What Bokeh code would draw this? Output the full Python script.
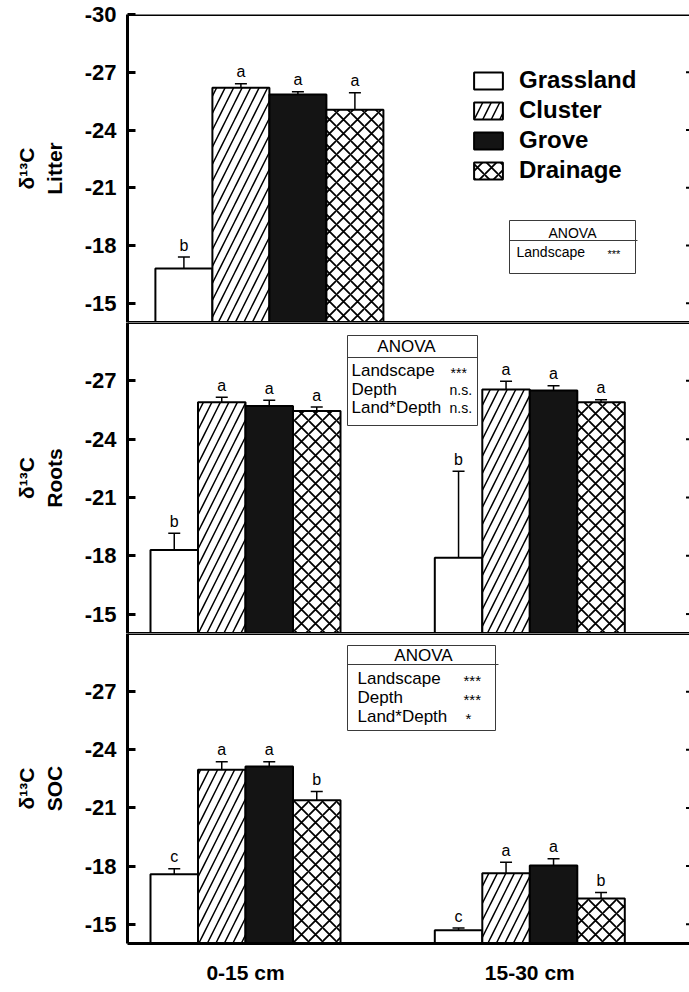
from bokeh.plotting import figure
from bokeh.models import (Range1d, FixedTicker, Whisker, TeeHead,
                          ColumnDataSource, Legend, LegendItem, Label, Span)
from bokeh.layouts import column
from bokeh.core.properties import value
from bokeh.embed import file_html
from bokeh.resources import INLINE

# ---------------- data ----------------
depths = ["0-15 cm", "15-30 cm"]
landscapes = ["Grassland", "Cluster", "Grove", "Drainage"]

litter_mean = [-16.8, -26.2, -25.85, -25.05]
litter_se = [0.6, 0.2, 0.14, 0.88]
litter_letters = ["b", "a", "a", "a"]

roots_mean_0_15 = [-18.3, -25.9, -25.7, -25.45]
roots_se_0_15 = [0.86, 0.26, 0.3, 0.2]
roots_letters_0_15 = ["b", "a", "a", "a"]
roots_mean_15_30 = [-17.9, -26.55, -26.5, -25.9]
roots_se_15_30 = [4.45, 0.43, 0.24, 0.12]
roots_letters_15_30 = ["b", "a", "a", "a"]

soc_mean_0_15 = [-17.58, -22.97, -23.14, -21.39]
soc_se_0_15 = [0.28, 0.41, 0.24, 0.45]
soc_letters_0_15 = ["c", "a", "a", "b"]
soc_mean_15_30 = [-14.68, -17.63, -18.03, -16.32]
soc_se_15_30 = [0.12, 0.57, 0.34, 0.31]
soc_letters_15_30 = ["c", "a", "a", "b"]

yticks_top = [-30, -27, -24, -21, -18, -15]
yticks = [-27, -24, -21, -18, -15]

# ---------------- layout constants ----------------
FONT = "Liberation Sans"
LEFT = 127
FRAME_W = 562
G1_PX, G2_PX = 245.0, 529.3
PXU = G2_PX - G1_PX
BAR_W = 47.5 / PXU
TOP_CENTER = 1 + (268.9 - G1_PX) / PXU
TOP_BAR_W = 57.0 / PXU
X_RANGE = (1 - (G1_PX - LEFT) / PXU, 1 + (LEFT + FRAME_W - G1_PX) / PXU)

styles = {
    "Grassland": dict(fill_color="white"),
    "Cluster": dict(fill_color="white", hatch_pattern="/", hatch_scale=17,
                    hatch_weight=1.5, hatch_color="black"),
    "Grove": dict(fill_color="#141414"),
    "Drainage": dict(fill_color="white", hatch_pattern="x", hatch_scale=14,
                     hatch_weight=1.8, hatch_color="black"),
}


def xd(px):
    return 1 + (px - G1_PX) / PXU


def make_panel(h, top_border, bottom_border, label, ticks, xaxis=False):
    p = figure(frame_width=FRAME_W, frame_height=h,
               x_range=Range1d(*X_RANGE), y_range=Range1d(-14, -30),
               output_backend="svg", toolbar_location=None,
               x_axis_location="below" if xaxis else None,
               min_border_left=LEFT, min_border_right=0,
               min_border_top=top_border, min_border_bottom=bottom_border)
    p.xgrid.visible = False
    p.ygrid.visible = False
    p.outline_line_color = None
    p.background_fill_color = "white"
    p.border_fill_color = "white"
    ya = p.yaxis[0]
    ya.ticker = FixedTicker(ticks=ticks)
    ya.major_label_overrides = {t: str(t) for t in ticks}
    ya.axis_line_width = 3
    ya.axis_line_color = "black"
    ya.major_tick_in = 8
    ya.major_tick_out = 0
    ya.major_tick_line_width = 3
    ya.minor_tick_line_color = None
    ya.major_label_text_font = FONT
    ya.major_label_text_font_style = "bold"
    ya.major_label_text_font_size = "22px"
    ya.major_label_text_color = "black"
    ya.major_label_standoff = 11
    ya.axis_label = label
    ya.axis_label_text_font = FONT
    ya.axis_label_text_font_style = "bold"
    ya.axis_label_text_font_size = "21px"
    ya.axis_label_text_color = "black"
    ya.axis_label_standoff = 16
    # inward tick marks on the (off-page) right side
    p.scatter(x=[X_RANGE[1]] * len(yticks), y=yticks, marker="dash", size=7,
              line_width=2, line_color="black")
    for loc in (-30, -14):
        p.add_layout(Span(location=loc, dimension="width", line_color="black",
                          line_width=3))
    return p


def add_bars(p, centers, width, means, ses, letters):
    renderers = []
    for i, name in enumerate(landscapes):
        xs = [c + (i - 1.5) * width for c in centers]
        top = [m[i] for m in means]
        cap = [m[i] - s[i] for m, s in zip(means, ses)]
        src = ColumnDataSource(dict(x=xs, top=top, cap=cap,
                                    letter=[l[i] for l in letters]))
        r = p.vbar(x="x", width=width, bottom=-14, top="top", source=src,
                   line_color="black", line_width=2, **styles[name])
        renderers.append(r)
        p.add_layout(Whisker(source=src, base="x", lower="top", upper="cap",
                             dimension="height", line_width=1.5, line_color="black",
                             lower_head=None,
                             upper_head=TeeHead(size=12, line_width=1.5,
                                                line_color="black")))
        p.text(x="x", y="cap", text="letter", source=src, text_align="center",
               text_baseline="alphabetic", y_offset=-12, text_font=value(FONT),
               text_font_size="16px", text_color="black")
    return renderers


def anova_box(p, top_px, h, box, header_y, title_xy, rows, size, right_size,
              right_dy, ext=0):
    def yd(py):
        return -30 + (py - top_px) * 16.0 / h
    x0, x1, y0, y1 = box
    p.quad(left=xd(x0), right=xd(x1), top=yd(y0), bottom=yd(y1),
           fill_color="white", line_color="#3a3a3a", line_width=1)
    p.segment(x0=xd(x0), y0=yd(header_y), x1=xd(x1 + ext), y1=yd(header_y),
              line_color="#3a3a3a", line_width=1)
    p.add_layout(Label(x=xd(title_xy[0]), y=yd(title_xy[1]), text="ANOVA",
                       text_font=FONT, text_font_size=f"{size}px",
                       text_align="center", text_baseline="middle",
                       text_color="black"))
    for (lx, ly, ltxt, rx, rtxt) in rows:
        p.add_layout(Label(x=xd(lx), y=yd(ly), text=ltxt, text_font=FONT,
                           text_font_size=f"{size}px", text_align="left",
                           text_baseline="middle", text_color="black"))
        is_star = rtxt.startswith("*")
        p.add_layout(Label(x=xd(rx), y=yd(ly + (right_dy if is_star else 0)),
                           text=rtxt, text_font=FONT,
                           text_font_size=f"{right_size}px", text_align="left",
                           text_baseline="middle", text_color="black"))


# ---------------- panel 1: Litter ----------------
p1 = make_panel(308, 14, 0, "δ¹³C\nLitter", yticks_top)
r1 = add_bars(p1, [TOP_CENTER], TOP_BAR_W, [litter_mean], [litter_se],
              [litter_letters])
legend = Legend(items=[LegendItem(label=n, renderers=[r]) for n, r in zip(landscapes, r1)],
                location=(343, 138), orientation="vertical", glyph_width=36,
                glyph_height=21, label_height=21, spacing=2, padding=0, margin=0,
                border_line_color=None, background_fill_alpha=0,
                label_text_font=FONT, label_text_font_style="bold",
                label_text_font_size="24px", label_standoff=13,
                label_text_color="black")
p1.add_layout(legend)
anova_box(p1, 14, 308, (509, 635, 220, 273), 240, (572, 232),
          [(516, 251, "Landscape", 607, "***")], 14, 11, 2, ext=2)

# ---------------- panel 2: Roots ----------------
p2 = make_panel(311, 0, 0, "δ¹³C\nRoots", yticks)
add_bars(p2, [1, 2], BAR_W, [roots_mean_0_15, roots_mean_15_30],
         [roots_se_0_15, roots_se_15_30], [roots_letters_0_15, roots_letters_15_30])
anova_box(p2, 322, 311, (347, 477, 335, 425), 357, (406, 346),
          [(351, 370, "Landscape", 450, "***"),
           (351, 389, "Depth", 449, "n.s."),
           (351, 407, "Land*Depth", 449, "n.s.")], 17, 14, 2)

# ---------------- panel 3: SOC ----------------
p3 = make_panel(310, 0, 49, "δ¹³C\nSOC", yticks, xaxis=True)
add_bars(p3, [1, 2], BAR_W, [soc_mean_0_15, soc_mean_15_30],
         [soc_se_0_15, soc_se_15_30], [soc_letters_0_15, soc_letters_15_30])
anova_box(p3, 633, 310, (347, 495, 645, 730), 664, (423, 655),
          [(357, 678, "Landscape", 463, "***"),
           (357, 697, "Depth", 463, "***"),
           (357, 716, "Land*Depth", 465, "*")], 17, 15, 2, ext=3)
xa = p3.xaxis[0]
xa.ticker = FixedTicker(ticks=[1, 2])
xa.major_label_overrides = {1: depths[0], 2: depths[1]}
xa.axis_line_width = 3
xa.axis_line_color = "black"
xa.major_tick_in = 0
xa.major_tick_out = 0
xa.minor_tick_line_color = None
xa.major_label_text_font = FONT
xa.major_label_text_font_style = "bold"
xa.major_label_text_font_size = "21px"
xa.major_label_text_color = "black"
xa.major_label_standoff = 17

layout = column(p1, p2, p3, spacing=0)
open("out.html", "w").write(file_html(layout, INLINE))
